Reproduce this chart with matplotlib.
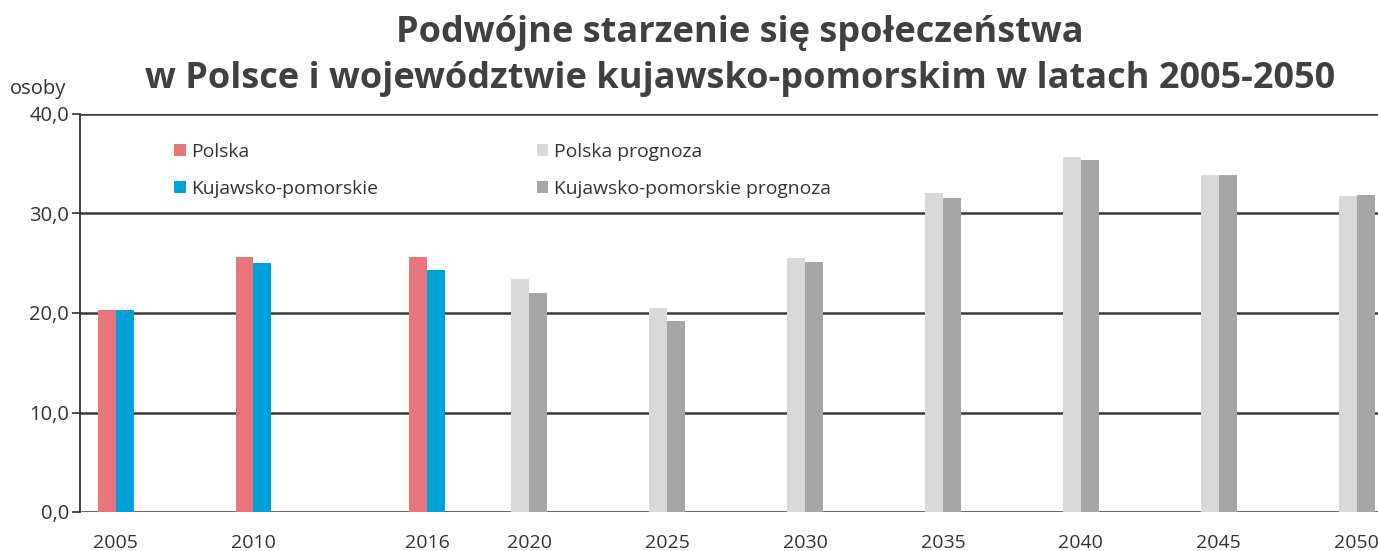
import matplotlib
matplotlib.use("Agg")
import matplotlib.pyplot as plt

plt.rcParams['font.family'] = ['Open Sans', 'DejaVu Sans']

years = ['2005', '2010', '2016', '2020', '2025', '2030', '2035', '2040', '2045', '2050']
polska = [20.3, 25.6, 25.6, None, None, None, None, None, None, None]
kujawsko = [20.3, 25.0, 24.3, None, None, None, None, None, None, None]
polska_prog = [None, None, None, 23.4, 20.5, 25.5, 32.1, 35.7, 33.9, 31.8]
kujawsko_prog = [None, None, None, 22.0, 19.2, 25.1, 31.6, 35.4, 33.9, 31.9]
y_ticks = [0, 10, 20, 30, 40]
y_labels = ['0,0', '10,0', '20,0', '30,0', '40,0']

# layout: horizontal positions of the year groups (2016 sits off the 5-year grid)
xpos = [0, 1, 2.26, 3, 4, 5, 6, 7, 8, 9]
bw = 0.13

c_pl = '#E8747C'
c_kp = '#00A0D8'
c_plp = '#D9D9D9'
c_kpp = '#A6A6A6'
txt = '#333333'

fig = plt.figure(figsize=(13.78, 5.51), dpi=100)
ax = fig.add_axes([80/1378, 1-512/551, 1-80/1378, (512-114)/551])

def draw(vals, offset, color, label):
    xs = [x + offset for x, v in zip(xpos, vals) if v is not None]
    hs = [v for v in vals if v is not None]
    return ax.bar(xs, hs, width=bw, color=color, label=label, zorder=3, linewidth=0)

b1 = draw(polska, -bw/2, c_pl, 'Polska')
b2 = draw(kujawsko, bw/2, c_kp, 'Kujawsko-pomorskie')
b3 = draw(polska_prog, -bw/2, c_plp, 'Polska prognoza')
b4 = draw(kujawsko_prog, bw/2, c_kpp, 'Kujawsko-pomorskie prognoza')

ax.set_ylim(0, 40)
ax.set_xlim(-0.258, 9.155)
ax.set_yticks(y_ticks)
ax.set_yticklabels(y_labels, fontsize=14.5, color=txt)
ax.set_xticks(xpos)
ax.set_xticklabels(years, fontsize=14, color=txt)
ax.tick_params(axis='x', length=0, pad=16)
ax.tick_params(axis='y', length=6, width=1.2, color='#333333', pad=2)
for y in y_ticks:
    ax.axhline(y, color='#3a3a3a', lw=1.8, zorder=1)
for s in ['top', 'right', 'bottom']:
    ax.spines[s].set_visible(False)
ax.spines['left'].set_color('#333333')
ax.spines['left'].set_linewidth(1.3)

leg = ax.legend(handles=[b1, b2, b3, b4], ncol=2, loc='upper left',
                bbox_to_anchor=(0.059, 0.972), frameon=False, fontsize=13.9,
                handlelength=0.6, handleheight=0.6, handletextpad=0.3,
                columnspacing=8.2, labelspacing=1.0, labelcolor=txt)

fig.text(740/1378, 1-33/551, 'Podwójne starzenie się społeczeństwa', ha='center', va='center',
         fontsize=26, fontweight='bold', color='#404040')
fig.text(740/1378, 1-79/551, 'w Polsce i województwie kujawsko-pomorskim w latach 2005-2050',
         ha='center', va='center', fontsize=26, fontweight='bold', color='#404040')
fig.text(38/1378, 1-89/551, 'osoby', ha='center', va='center', fontsize=14.5, color=txt)

fig.savefig('out.png', dpi=100)
